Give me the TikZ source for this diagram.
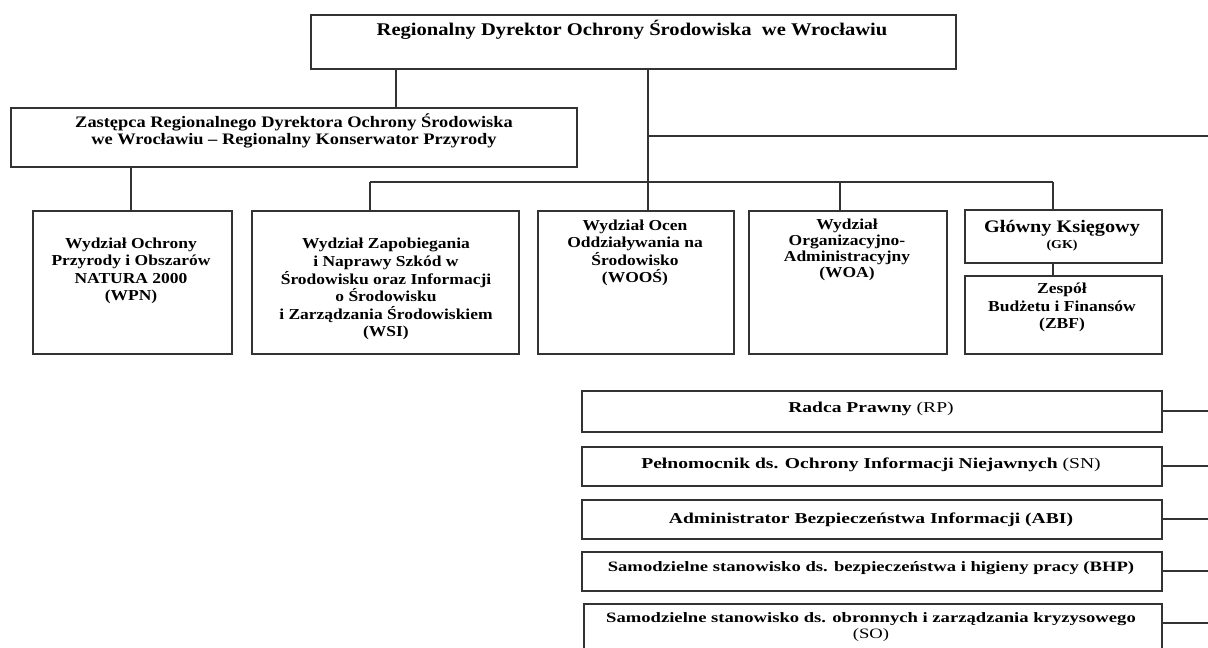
\documentclass[tikz,border=0pt]{standalone}
\usepackage{fontspec}
\setmainfont[FakeStretch=1.15]{Liberation Serif}
\newfontfamily\widefont[FakeStretch=1.3]{Liberation Serif}

\def\px{0.75pt}

\tikzset{
  box/.style={draw=black!80, line width=1.4pt, inner sep=0pt, anchor=north west},
  txt/.style={anchor=base, align=center, inner sep=0pt, font=\bfseries\fontsize{11.4}{13.2}\selectfont},
  low/.style={txt, font=\widefont\bfseries\fontsize{11.3}{12.75}\selectfont},
  link/.style={draw=black!80, line width=1.4pt}
}

\begin{document}
\begin{tikzpicture}[x=0.75pt, y=-0.75pt]
\useasboundingbox (0,0) rectangle (1208,648);
\clip (0,0) rectangle (1208,648);

% Director and deputy (text nodes sit on the baseline of their last line)
\node [box, minimum width=645*\px, minimum height=54*\px] (rdos) at (310,14) {};
\node [txt, font=\bfseries\fontsize{13.4}{15}\selectfont] (rdos-t) at (632,36) {Regionalny Dyrektor Ochrony Środowiska\ \ we Wrocławiu};

\node [box, minimum width=566*\px, minimum height=59*\px] (zast) at (10,107) {};
\node [txt, font=\bfseries\fontsize{12}{12.75}\selectfont] (zast-t) at (294,145) {Zastępca Regionalnego Dyrektora Ochrony Środowiska\\we Wrocławiu -- Regionalny Konserwator Przyrody};

% Departments
\node [box, minimum width=199*\px, minimum height=143*\px] (wpn) at (32,210) {};
\node [txt] (wpn-t) at (131,301) {Wydział Ochrony\\Przyrody i Obszarów\\NATURA 2000\\(WPN)};

\node [box, minimum width=267*\px, minimum height=143*\px] (wsi) at (251,210) {};
\node [txt] (wsi-t) at (386,337) {Wydział Zapobiegania\\i Naprawy Szkód w\\Środowisku oraz Informacji\\o Środowisku\\i Zarządzania Środowiskiem\\(WSI)};

\node [box, minimum width=196*\px, minimum height=143*\px] (woos) at (537,210) {};
\node [txt] (woos-t) at (635,283) {Wydział Ocen\\Oddziaływania na\\Środowisko\\(WOOŚ)};

\node [box, minimum width=198*\px, minimum height=143*\px] (woa) at (748,210) {};
\node [txt, font=\bfseries\fontsize{11.4}{12}\selectfont] (woa-t) at (847,278) {Wydział\\Organizacyjno-\\Administracyjny\\(WOA)};

% Accountant
\node [box, minimum width=197*\px, minimum height=53*\px] (gk) at (964,209) {};
\node [txt, font=\bfseries\fontsize{13.2}{15}\selectfont] (gk-t) at (1062,233) {Główny Księgowy};
\node [txt, font=\bfseries\fontsize{9.1}{10}\selectfont] (gk-s) at (1062,249) {(GK)};

\node [box, minimum width=197*\px, minimum height=78*\px] (zbf) at (964,275) {};
\node [txt] (zbf-t) at (1062,329) {Zespół\\Budżetu i Finansów\\(ZBF)};

% Single posts
\node [box, minimum width=580*\px, minimum height=41*\px] (rp) at (581,390) {};
\node [low] (rp-t) at (871,413) {Radca Prawny {\mdseries (RP)}};

\node [box, minimum width=580*\px, minimum height=39*\px] (sn) at (581,446) {};
\node [low] (sn-t) at (871,469) {Pełnomocnik ds. Ochrony Informacji Niejawnych {\mdseries (SN)}};

\node [box, minimum width=580*\px, minimum height=39*\px] (abi) at (581,499) {};
\node [low] (abi-t) at (871,524) {Administrator Bezpieczeństwa Informacji (ABI)};

\node [box, minimum width=580*\px, minimum height=39*\px] (bhp) at (581,551) {};
\node [low, font=\widefont\bfseries\fontsize{10.75}{12.75}\selectfont] (bhp-t) at (871,572) {Samodzielne stanowisko ds. bezpieczeństwa i higieny pracy (BHP)};

\node [box, minimum width=578*\px, minimum height=62*\px] (so) at (583,603) {};
\node [low, font=\widefont\bfseries\fontsize{10.75}{12.75}\selectfont] (so-t) at (871,639) {Samodzielne stanowisko ds. obronnych i zarządzania kryzysowego\\{\mdseries (SO)}};

% Connectors
\coordinate (zx) at (396,0);
\coordinate (wx) at (131,0);
\coordinate (bus) at (648,182);
\coordinate (busL) at (370,182);
\coordinate (busW) at (840,182);
\coordinate (busR) at (1053,182);
\coordinate (side) at (1208,136);

\draw [link] (rdos.south -| zx) -- (zast.north -| zx);
\draw [link] (rdos.south -| bus) -- (bus);
\draw [link] (bus |- side) -- (side);
\draw [link] (zast.south -| wx) -- (wpn.north -| wx);
\draw [link] (busL) -- (busR);
\draw [link] (busL) -- (wsi.north -| busL);
\draw [link] (bus) -- (woos.north -| bus);
\draw [link] (busW) -- (woa.north -| busW);
\draw [link] (busR) -- (gk.north -| busR);
\draw [link] (gk.south -| busR) -- (zbf.north -| busR);

\foreach \n in {rp,sn,abi,bhp}
  \draw [link] (\n.east) -- (\n.east -| side);
\coordinate (soR) at ([yshift=-15pt]so.north east);
\draw [link] (soR) -- (soR -| side);
\end{tikzpicture}
\end{document}
